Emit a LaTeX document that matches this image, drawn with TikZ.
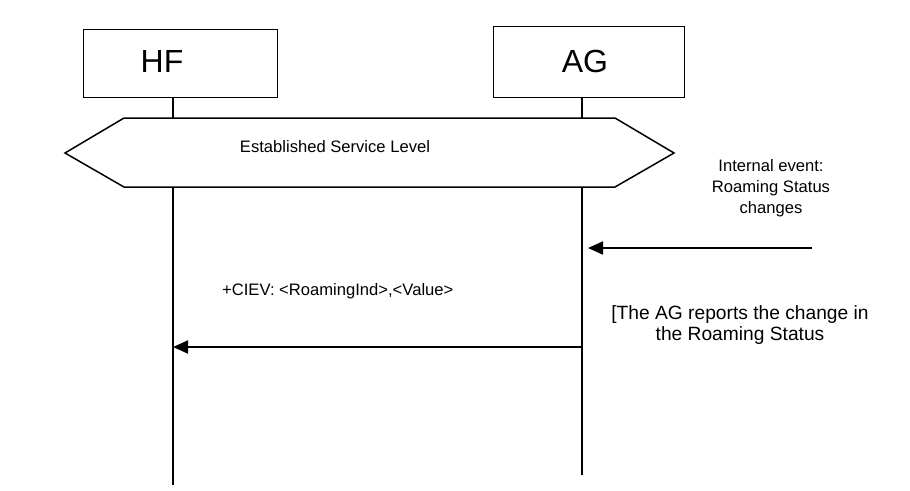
\documentclass[tikz,border=0pt]{standalone}
\usepackage{fontspec}
\setmainfont{Liberation Sans}
\usetikzlibrary{arrows.meta}
\begin{document}
\begin{tikzpicture}[x=1pt,y=-1pt,
  entity/.style={draw,line width=1pt,inner sep=0pt,anchor=north west},
  lifeline/.style={line width=2pt},
  msg/.style={line width=2pt,-{Triangle[length=15pt,width=13pt]}},
  lbl/.style={inner sep=0pt,font=\fontsize{16.6}{21}\selectfont},
  bigl/.style={inner sep=0pt,font=\fontsize{32}{36}\selectfont}]
\useasboundingbox (0,0) rectangle (910,490);
% entity boxes
\node[entity,minimum width=194pt,minimum height=68pt] (hf) at (83,29) {};
\node[entity,minimum width=191pt,minimum height=71pt] (ag) at (493,26) {};
\node[bigl] (hft) at (162,61) {HF};
\node[bigl] (agt) at (585,61) {AG};
% hexagon
\coordinate (hxl) at (65,153);
\coordinate (hxtl) at (124,118);
\coordinate (hxtr) at (615,118);
\coordinate (hxr) at (674,153);
\coordinate (hxbr) at (615,187);
\coordinate (hxbl) at (124,187);
\draw[line width=1.5pt] (hxl) -- (hxtl) -- (hxtr) -- (hxr) -- (hxbr) -- (hxbl) -- cycle;
\node[lbl] (esl) at (335,147) {Established Service Level};
% lifelines
\coordinate (hf1) at (173,118);
\coordinate (hf2) at (173,187);
\coordinate (hfend) at (173,485);
\coordinate (ag1) at (582,118);
\coordinate (ag2) at (582,187);
\coordinate (agend) at (582,475);
\draw[lifeline] (hf.south -| hf1) -- (hf1);
\draw[lifeline] (hf2) -- (hfend);
\draw[lifeline] (ag.south -| ag1) -- (ag1);
\draw[lifeline] (ag2) -- (agend);
% internal event
\node[lbl,align=center] (ev) at (771,188) {Internal event:\\Roaming Status\\changes};
\coordinate (evs) at (812,248);
\coordinate (evt) at (582,248);
\draw[msg,shorten >=6pt] (evs) -- (evt);
% message
\coordinate (ms) at (582,347);
\coordinate (mt) at (173,347);
\draw[msg] (ms) -- (mt);
\node[lbl,anchor=west] (cie) at (222,291) {+CIEV: <RoamingInd>,<Value>};
\node[inner sep=0pt,align=center,font=\fontsize{19.2}{21}\selectfont] (rep) at (740,325) {[The AG reports the change in\\the Roaming Status};
\end{tikzpicture}
\end{document}
